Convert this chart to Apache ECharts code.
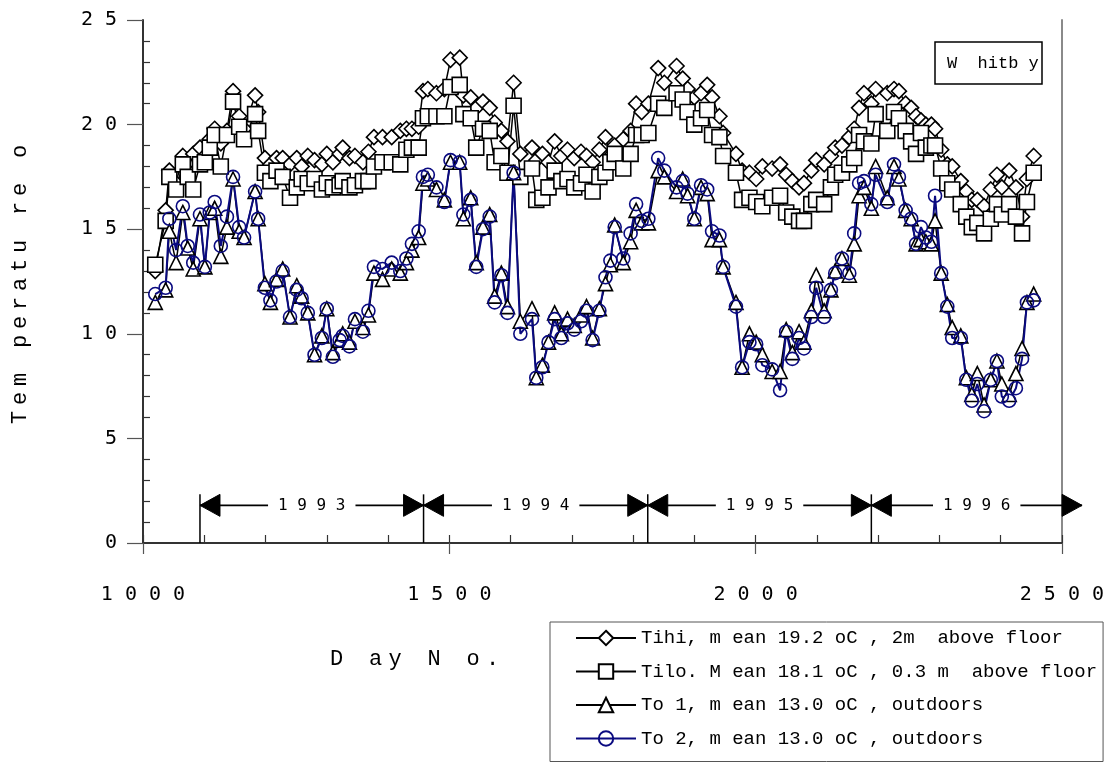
<!DOCTYPE html>
<html>
<head>
<meta charset="utf-8">
<title>Whitby temperatures</title>
<script src="https://cdn.jsdelivr.net/npm/echarts@6/dist/echarts.min.js"></script>
<style>
  html, body { margin: 0; padding: 0; background: #fff; }
  #chart { width: 1107px; height: 763px; }
</style>
</head>
<body>
<div id="chart"></div>
<script>
// Day numbers of the readings
const days = [
  1020, 1037, 1043, 1054, 1065, 1073, 1082, 1093, 1101, 1109, 1117, 1127, 1137, 1147, 1157, 1165,
  1183, 1188, 1199, 1208, 1218, 1228, 1240, 1251, 1259, 1269, 1280, 1292, 1300, 1310, 1321, 1326,
  1337, 1346, 1359, 1368, 1377, 1391, 1406, 1420, 1430, 1439, 1450, 1457, 1465, 1479, 1492, 1502,
  1517, 1523, 1535, 1544, 1555, 1566, 1574, 1585, 1595, 1605, 1616, 1635, 1642, 1652, 1662, 1672,
  1683, 1693, 1704, 1715, 1724, 1734, 1745, 1755, 1763, 1770, 1784, 1796, 1805, 1814, 1825, 1841,
  1851, 1871, 1881, 1889, 1900, 1911, 1921, 1929, 1941, 1947, 1968, 1978, 1990, 2001, 2011, 2027,
  2040, 2050, 2060, 2071, 2079, 2091, 2099, 2112, 2123, 2130, 2141, 2153, 2161, 2169, 2177, 2189,
  2196, 2215, 2226, 2234, 2245, 2254, 2262, 2270, 2278, 2287, 2293, 2303, 2313, 2321, 2335, 2344,
  2353, 2362, 2373, 2384, 2394, 2402, 2414, 2425, 2435, 2443, 2454
];

// Indoor, 2 m above floor
const tihi = [
  13.0, 15.9, 17.8, 17.2, 18.5, 17.8, 18.6, 18.9, 18.5, 19.3, 19.8, 19.1, 19.7, 21.6, 20.4, 19.8,
  21.4, 20.6, 18.4, 18.1, 18.4, 18.4, 18.1, 18.4, 18.0, 18.5, 18.3, 18.1, 18.6, 18.2, 18.6, 18.9,
  18.4, 18.5, 18.2, 18.7, 19.4, 19.4, 19.4, 19.7, 19.8, 19.8, 19.9, 21.6, 21.7, 21.5, 21.7, 23.1,
  23.2, 21.4, 21.3, 20.8, 21.1, 20.8, 20.1, 19.7, 19.2, 22.0, 18.6, 18.9, 18.3, 18.6, 18.2, 19.2,
  18.5, 18.8, 18.4, 18.7, 18.5, 18.2, 18.8, 19.4, 18.5, 19.0, 19.3, 19.7, 21.0, 20.6, 21.0, 22.7,
  22.0, 22.8, 22.2, 21.7, 21.3, 21.5, 21.9, 21.3, 20.4, 19.6, 18.6, 17.8, 17.7, 17.4, 18.0, 17.9,
  18.1, 17.6, 17.3, 17.0, 17.2, 17.8, 18.3, 18.1, 18.5, 18.9, 19.0, 19.4, 19.8, 20.8, 21.5, 21.0,
  21.7, 21.5, 21.7, 21.6, 21.0, 20.8, 20.4, 20.2, 20.0, 20.0, 19.8, 18.8, 18.1, 18.0, 17.3, 16.8,
  16.4, 16.4, 16.1, 16.9, 17.6, 17.0, 17.8, 17.0, 15.6, 17.4, 18.5
];

// Indoor, 0.3 m above floor
const tilo = [
  13.3, 15.4, 17.5, 16.9, 18.1, 17.5, 16.9, 18.1, 18.2, 18.9, 19.5, 18.0, 19.5, 21.1, 19.9, 19.3,
  20.5, 19.7, 17.7, 17.3, 17.8, 17.5, 16.5, 17.0, 17.4, 17.2, 17.4, 16.9, 17.2, 17.0, 17.1, 17.3,
  17.0, 17.1, 17.3, 17.3, 18.0, 18.2, 18.2, 18.1, 18.8, 18.9, 18.9, 20.3, 20.4, 20.4, 20.4, 21.8,
  21.9, 20.5, 20.3, 18.9, 19.8, 19.7, 18.2, 18.5, 17.7, 20.9, 17.5, 17.9, 16.4, 16.5, 17.0, 17.8,
  17.3, 17.4, 17.0, 17.2, 17.6, 16.8, 17.5, 17.7, 18.2, 18.6, 17.9, 18.6, 19.5, 19.5, 19.6, 21.0,
  20.8, 21.5, 21.2, 20.6, 20.0, 20.3, 20.7, 19.5, 19.4, 18.5, 17.7, 16.4, 16.5, 16.3, 16.1, 16.5,
  16.6, 15.8, 15.6, 15.4, 15.4, 16.2, 16.4, 16.2, 17.0, 17.6, 17.7, 18.1, 18.4, 19.5, 19.2, 19.1,
  20.5, 19.7, 20.6, 20.3, 19.7, 19.2, 18.6, 19.6, 18.9, 19.0, 19.0, 17.9, 17.2, 16.9, 16.2, 15.6,
  15.1, 15.3, 14.8, 15.5, 16.2, 15.7, 16.2, 15.6, 14.8, 16.3, 17.7
];

// Outdoor sensor 1
const to1 = [
  11.5, 12.1, 14.9, 13.4, 15.8, 14.1, 13.1, 15.5, 13.2, 15.8, 16.0, 13.7, 15.1, 17.4, 14.9, 14.6,
  16.8, 15.5, 12.4, 11.5, 12.6, 13.1, 10.8, 12.3, 11.8, 11.0, 9.0, 9.9, 11.2, 9.1, 9.7, 10.0,
  9.6, 10.6, 10.3, 10.9, 12.9, 12.6, 13.1, 12.9, 13.4, 14.0, 14.6, 17.2, 17.4, 16.9, 16.4, 18.2,
  18.2, 15.5, 16.5, 13.4, 15.1, 15.7, 11.8, 12.9, 11.3, 17.7, 10.6, 11.2, 7.9, 8.5, 9.6, 11.0,
  10.0, 10.7, 10.4, 10.9, 11.3, 9.8, 11.2, 12.4, 13.3, 15.2, 13.4, 14.4, 15.9, 15.3, 15.3, 17.8,
  17.5, 16.8, 17.4, 16.6, 15.5, 17.0, 16.7, 14.5, 14.5, 13.2, 11.5, 8.4, 10.0, 9.6, 9.0, 8.2,
  8.2, 10.2, 9.1, 10.1, 9.6, 11.1, 12.8, 11.1, 12.1, 13.0, 13.6, 12.8, 14.3, 16.6, 17.0, 16.0,
  18.0, 16.5, 18.0, 17.4, 15.9, 15.5, 14.3, 14.5, 14.4, 14.3, 15.4, 12.9, 11.4, 10.3, 9.9, 7.9,
  7.1, 8.1, 6.6, 7.8, 8.7, 7.6, 7.1, 8.1, 9.3, 11.5, 11.9
];

// Outdoor sensor 2
const to2 = [
  11.9, 12.2, 15.5, 14.0, 16.1, 14.2, 13.4, 15.7, 13.2, 15.8, 16.3, 14.2, 15.6, 17.5, 15.1, 14.6,
  16.8, 15.5, 12.2, 11.6, 12.5, 13.0, 10.8, 12.1, 11.7, 11.0, 9.0, 9.8, 11.2, 8.9, 9.7, 9.9,
  9.4, 10.7, 10.1, 11.1, 13.2, 13.1, 13.4, 13.0, 13.6, 14.3, 14.9, 17.5, 17.6, 17.0, 16.3, 18.3,
  18.2, 15.7, 16.4, 13.2, 15.0, 15.6, 11.5, 12.8, 11.0, 17.7, 10.0, 10.7, 7.9, 8.4, 9.6, 10.7,
  9.8, 10.5, 10.2, 10.6, 11.1, 9.7, 11.1, 12.7, 13.5, 15.1, 13.6, 14.8, 16.2, 15.4, 15.5, 18.4,
  17.8, 17.0, 17.3, 16.7, 15.5, 17.1, 16.9, 14.9, 14.7, 13.2, 11.3, 8.4, 9.6, 9.5, 8.5, 8.3,
  7.3, 10.1, 8.8, 9.8, 9.3, 10.8, 12.2, 10.8, 12.1, 12.9, 13.6, 12.9, 14.8, 17.2, 17.3, 16.2,
  17.6, 16.3, 18.1, 17.5, 15.9, 15.5, 14.3, 15.1, 14.6, 14.4, 16.6, 12.9, 11.3, 9.8, 9.8, 7.8,
  6.8, 7.6, 6.3, 7.8, 8.7, 7.0, 6.8, 7.4, 8.8, 11.5, 11.6
];

// Series names as shown in the key
const seriesNames = [
  'Tihi, m ean 19.2 oC , 2m  above floor',
  'Tilo. M ean 18.1 oC , 0.3 m  above floor',
  'To 1, m ean 13.0 oC , outdoors',
  'To 2, m ean 13.0 oC , outdoors'
];

// Calendar-year spans along the day axis
const yearStarts = [1093, 1458, 1824, 2189];
const yearEnds = [1458, 1824, 2189, 2533];
const yearLabels = ['1993', '1994', '1995', '1996'];
const yearBandLevel = 1.8;

// Axis ranges
const dayMin = 1000, dayMax = 2500, dayStep = 500;
const tempMin = 0, tempMax = 25, tempStep = 5;

const spaced = s => String(s).split('').join(' ');
// each character gets a fixed-width cell so the title reads letter-spaced
const cells = (s, key) => s.split('').map(c => '{' + key + '|' + c + '}').join('');

const pair = vals => days.map((d, i) => [d, vals[i]]);

const chart = echarts.init(document.getElementById('chart'), null, { renderer: 'canvas' });

const axisColor = '#333';
const monoSans = '"DejaVu Sans Mono", monospace';
const monoSerif = '"Liberation Mono", "Courier New", monospace';

const markerSeries = (name, vals, symbol, size, lineColor, fill, lineWidth) => ({
  name: name,
  type: 'line',
  data: pair(vals),
  xAxisIndex: 0,
  yAxisIndex: 0,
  symbol: symbol,
  symbolSize: size,
  showSymbol: true,
  showAllSymbol: true,
  lineStyle: { color: lineColor, width: lineWidth },
  itemStyle: { color: fill, borderColor: lineColor, borderWidth: 1.6 },
  emphasis: { disabled: true },
  animation: false
});

const option = {
  animation: false,
  backgroundColor: '#fff',
  title: {
    text: 'W  hitb y',
    left: 935,
    top: 42,
    padding: [13, 3, 12, 12],
    borderColor: '#000',
    borderWidth: 1.5,
    textStyle: { fontFamily: monoSerif, fontSize: 17, fontWeight: 'normal', color: '#000' }
  },
  grid: { left: 143, right: 44, top: 20, bottom: 220, containLabel: false },
  legend: {
    orient: 'vertical',
    left: 550,
    top: 622,
    height: 140,
    padding: [6, 6, 13, 25],
    itemGap: 13.5,
    itemWidth: 60,
    itemHeight: 18,
    borderColor: '#555',
    borderWidth: 1,
    data: seriesNames,
    textStyle: { fontFamily: monoSerif, fontSize: 19, lineHeight: 20, color: '#000' },
    selectedMode: false
  },
  graphic: [{
    type: 'text',
    left: 330,
    top: 648,
    style: {
      text: cells('D ay N o.', 'c'),
      rich: { c: { width: 19.5, align: 'left', fontFamily: monoSerif, fontSize: 22, fill: '#000' } }
    }
  }],
  xAxis: [{
    type: 'value',
    min: dayMin, max: dayMax, interval: dayStep,
    position: 'bottom',
    axisLine: { show: true, onZero: false, lineStyle: { color: axisColor, width: 2 } },
    axisTick: { show: true, inside: true, length: 8, lineStyle: { color: axisColor, width: 1.2 } },
    minorTick: { show: true, splitNumber: 5, length: 8, lineStyle: { color: axisColor, width: 1.2 } },
    axisLabel: { margin: 42, formatter: v => spaced(v), fontFamily: monoSans, fontSize: 20, color: '#000' },
    splitLine: { show: false }
  }, {
    type: 'value',
    min: dayMin, max: dayMax, interval: dayStep,
    position: 'bottom',
    axisLine: { show: false, onZero: false },
    axisTick: { show: true, inside: false, length: 11, lineStyle: { color: '#555', width: 1.2 } },
    axisLabel: { show: false },
    splitLine: { show: false }
  }],
  yAxis: [{
    type: 'value',
    min: tempMin, max: tempMax, interval: tempStep,
    position: 'left',
    name: cells('Tem peratu re o', 't'),
    nameLocation: 'middle',
    nameGap: 112,
    nameRotate: 90,
    nameTextStyle: {
      rich: { t: { width: 19, align: 'left', fontFamily: monoSerif, fontSize: 22, color: '#000' } }
    },
    axisLine: { show: true, onZero: false, lineStyle: { color: axisColor, width: 2 } },
    axisTick: { show: true, inside: false, length: 16, lineStyle: { color: '#555', width: 1.2 } },
    axisLabel: { margin: 26, formatter: v => spaced(v), fontFamily: monoSans, fontSize: 20, color: '#000' },
    splitLine: { show: false }
  }, {
    type: 'value',
    min: tempMin, max: tempMax, interval: tempStep,
    position: 'left',
    axisLine: { show: false, onZero: false },
    axisTick: { show: false, inside: true },
    minorTick: { show: true, splitNumber: 5, length: 7, lineStyle: { color: axisColor, width: 1.2 } },
    axisLabel: { show: false },
    splitLine: { show: false }
  }, {
    type: 'value',
    min: tempMin, max: tempMax, interval: tempStep,
    position: 'right',
    axisLine: { show: true, onZero: false, lineStyle: { color: '#8a8a8a', width: 2 } },
    axisTick: { show: false },
    axisLabel: { show: false },
    splitLine: { show: false }
  }],
  series: [
    markerSeries(seriesNames[0], tihi, 'diamond', 15, '#000', '#fff', 1.5),
    markerSeries(seriesNames[1], tilo, 'rect', 15, '#000', '#fff', 1.5),
    markerSeries(seriesNames[2], to1, 'triangle', 14, '#000', '#fff', 1.5),
    // hollow circles so the triangles underneath stay visible
    markerSeries(seriesNames[3], to2, 'circle', 13, '#0a0a80', 'rgba(255,255,255,0)', 2),
    {
      type: 'custom',
      xAxisIndex: 0,
      yAxisIndex: 0,
      silent: true,
      clip: false,
      z: 6,
      data: yearStarts.map((s, i) => [s, yearEnds[i], yearBandLevel]),
      renderItem: (params, api) => {
        const a = api.coord([api.value(0), api.value(2)]);
        const b = api.coord([api.value(1), api.value(2)]);
        const base = api.coord([api.value(0), 0]);
        const half = 11, len = 20;
        const ink = { fill: '#000', stroke: '#000', lineWidth: 1 };
        return {
          type: 'group',
          children: [
            { type: 'line', shape: { x1: base[0], y1: base[1], x2: a[0], y2: a[1] - half },
              style: { stroke: '#000', lineWidth: 1.5 } },
            { type: 'line', shape: { x1: a[0], y1: a[1], x2: b[0], y2: b[1] },
              style: { stroke: '#000', lineWidth: 1.8 } },
            { type: 'polygon', shape: { points: [[a[0], a[1]], [a[0] + len, a[1] - half], [a[0] + len, a[1] + half]] },
              style: ink },
            { type: 'polygon', shape: { points: [[b[0], b[1]], [b[0] - len, b[1] - half], [b[0] - len, b[1] + half]] },
              style: ink },
            { type: 'text', x: (a[0] + b[0]) / 2, y: a[1],
              style: { text: spaced(yearLabels[params.dataIndex]), align: 'center', verticalAlign: 'middle',
                       font: '16px ' + monoSans, fill: '#000', backgroundColor: '#fff', padding: [3, 10] } }
          ]
        };
      }
    }
  ]
};

chart.setOption(option);
</script>
</body>
</html>
